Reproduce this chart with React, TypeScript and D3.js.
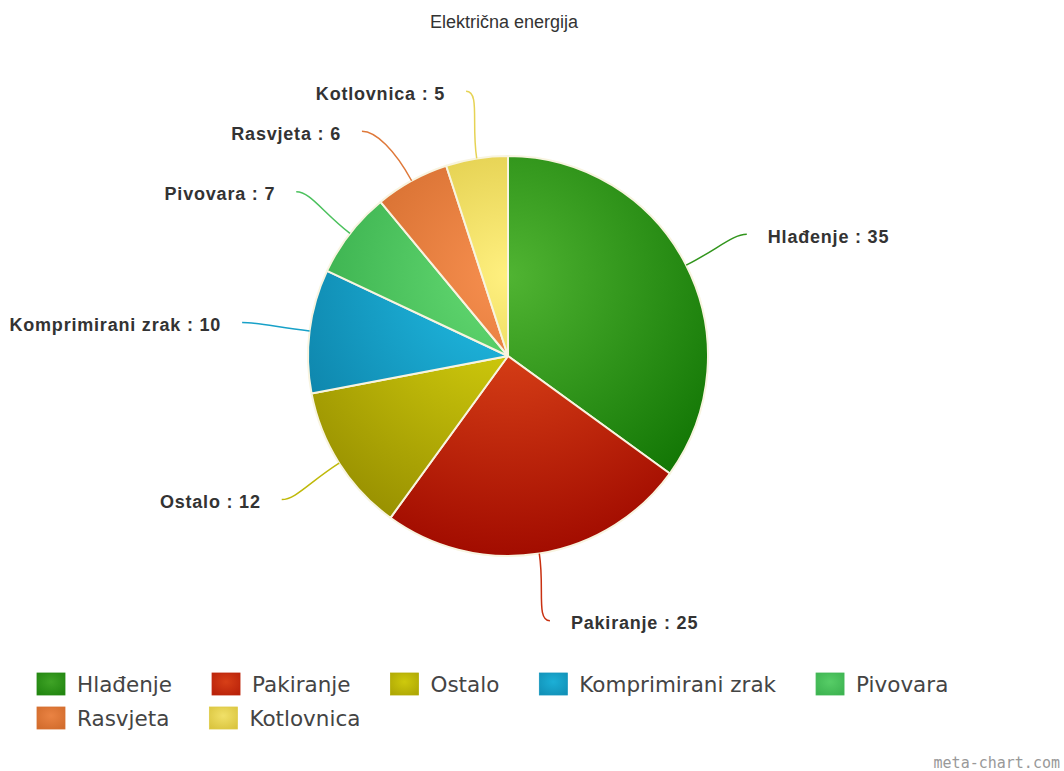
import * as d3 from "d3";
import React, { useEffect, useRef } from "react";

const title = "Električna energija";
const categories = [
  "Hlađenje",
  "Pakiranje",
  "Ostalo",
  "Komprimirani zrak",
  "Pivovara",
  "Rasvjeta",
  "Kotlovnica",
];
const values = [35, 25, 12, 10, 7, 6, 5];
const lightColors = ["#50b432", "#e8501e", "#e0dc10", "#22c0e8", "#66dc74", "#f89050", "#fff080"];
const darkColors = ["#0c7000", "#a20c00", "#968e00", "#0a7aa0", "#2aa040", "#c05a1c", "#c8b020"];

const width = 1064;
const height = 771;

const App = () => {
  const ref = useRef<SVGSVGElement>(null);

  useEffect(() => {
    const svg = d3.select(ref.current);
    svg.selectAll("*").remove();

    const cx = 508;
    const cy = 356;
    const r = 200;
    const labelR = 268;

    const defs = svg.append("defs");
    lightColors.forEach((c, i) => {
      // gradient in the pie group's local coords (origin = pie centre)
      const g = defs
        .append("radialGradient")
        .attr("id", `slice-${i}`)
        .attr("gradientUnits", "userSpaceOnUse")
        .attr("cx", 0)
        .attr("cy", -0.4 * r)
        .attr("r", 1.4 * r);
      g.append("stop").attr("offset", 0).attr("stop-color", c);
      g.append("stop").attr("offset", 1).attr("stop-color", darkColors[i]);

      const lg = defs
        .append("radialGradient")
        .attr("id", `swatch-${i}`)
        .attr("cx", 0.5)
        .attr("cy", 0.4)
        .attr("r", 0.8);
      lg.append("stop").attr("offset", 0).attr("stop-color", d3.interpolateRgb(c, darkColors[i])(0.25));
      lg.append("stop").attr("offset", 1).attr("stop-color", d3.interpolateRgb(c, darkColors[i])(0.75));
    });

    // title
    svg
      .append("text")
      .attr("x", 504)
      .attr("y", 28)
      .attr("text-anchor", "middle")
      .attr("font-family", "Liberation Sans, Arial, sans-serif")
      .attr("font-size", 18)
      .attr("fill", "#333")
      .text(title);

    const pie = d3
      .pie<number>()
      .sort(null)
      .value((d) => d);
    const arcs = pie(values);
    const arc = d3.arc<d3.PieArcDatum<number>>().innerRadius(0).outerRadius(r);

    const gPie = svg.append("g").attr("transform", `translate(${cx},${cy})`);
    gPie
      .selectAll("path")
      .data(arcs)
      .join("path")
      .attr("d", arc)
      .attr("fill", (d, i) => `url(#slice-${i})`)
      .attr("stroke", "#f8f4e0")
      .attr("stroke-width", 2)
      .attr("stroke-linejoin", "round");

    // labels
    const items = arcs.map((a, i) => {
      const mid = (a.startAngle + a.endAngle) / 2;
      return {
        i,
        mid,
        right: Math.sin(mid) >= 0,
        y: cy - Math.cos(mid) * labelR,
        x: 0,
      };
    });
    [true, false].forEach((side) => {
      const s = items.filter((d) => d.right === side).sort((a, b) => a.y - b.y);
      for (let k = 1; k < s.length; k++) {
        if (s[k].y - s[k - 1].y < 40) s[k].y = s[k - 1].y + 40;
      }
    });
    items.forEach((d) => {
      const dy = d.y - cy;
      const dx = Math.sqrt(Math.max(0, labelR * labelR - dy * dy));
      d.x = cx + (d.right ? dx : -dx);
    });

    const gLab = svg.append("g");
    items.forEach((d) => {
      const sx = cx + Math.sin(d.mid) * r;
      const sy = cy - Math.cos(d.mid) * r;
      const c1x = cx + Math.sin(d.mid) * (r + 35);
      const c1y = cy - Math.cos(d.mid) * (r + 35);
      const c2x = d.x + (d.right ? -14 : 14);
      const path = d3.path();
      path.moveTo(sx, sy);
      path.bezierCurveTo(c1x, c1y, c2x, d.y, d.x, d.y);
      gLab
        .append("path")
        .attr("d", path.toString())
        .attr("fill", "none")
        .attr("stroke", d3.interpolateRgb(lightColors[d.i], darkColors[d.i])(0.45))
        .attr("stroke-width", 1.5);

      gLab
        .append("text")
        .attr("x", d.x + (d.right ? 21 : -21))
        .attr("y", d.y + 2)
        .attr("dy", "0.35em")
        .attr("text-anchor", d.right ? "start" : "end")
        .attr("font-family", "Liberation Sans, Arial, sans-serif")
        .attr("font-weight", "bold")
        .attr("font-size", 18)
        .attr("letter-spacing", 0.8)
        .attr("fill", "#333")
        .text(`${categories[d.i]} : ${values[d.i]}`);
    });

    // legend
    const gLeg = svg.append("g");
    const startX = 37;
    const maxX = 1030;
    let lx = startX;
    let ly = 673;
    categories.forEach((name, i) => {
      const item = gLeg.append("g");
      item
        .append("rect")
        .attr("width", 28)
        .attr("height", 22)
        .attr("fill", `url(#swatch-${i})`)
        .attr("stroke", d3.interpolateRgb(lightColors[i], darkColors[i])(0.6))
        .attr("stroke-width", 0.8);
      const t = item
        .append("text")
        .attr("x", 40)
        .attr("y", 11)
        .attr("dy", "0.35em")
        .attr("font-family", "DejaVu Sans, sans-serif")
        .attr("font-size", 21.5)
        .attr("fill", "#444")
        .text(name);
      const w = 40 + (t.node() as SVGTextElement).getComputedTextLength();
      if (lx + w > maxX && lx > startX) {
        lx = startX;
        ly += 34;
      }
      item.attr("transform", `translate(${lx},${ly})`);
      lx += w + 40;
    });

    svg
      .append("text")
      .attr("x", 1060)
      .attr("y", 768)
      .attr("text-anchor", "end")
      .attr("font-family", "DejaVu Sans Mono, monospace")
      .attr("font-size", 15)
      .attr("fill", "#999")
      .text("meta-chart.com");
  }, []);

  return (
    <svg
      ref={ref}
      width={width}
      height={height}
      style={{ position: "absolute", left: 0, top: 0, background: "#fff" }}
    ></svg>
  );
};

export default App;
